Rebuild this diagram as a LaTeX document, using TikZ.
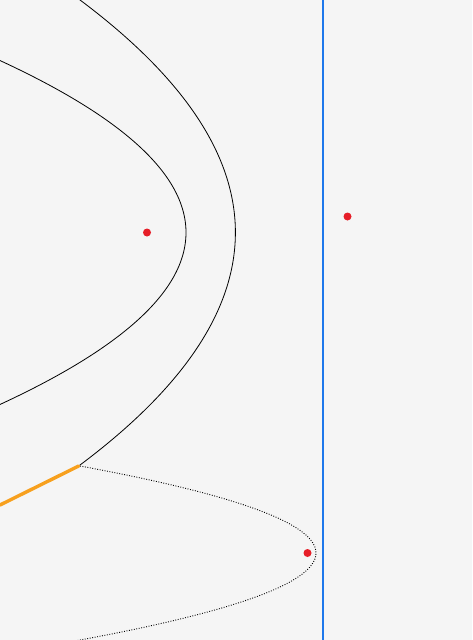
\documentclass[tikz,border=0pt]{standalone}
\definecolor{dotred}{RGB}{230,30,40}
\definecolor{dirblue}{RGB}{30,120,235}
\definecolor{tanorange}{RGB}{247,160,30}
\begin{document}
\begin{tikzpicture}[x=1pt,y=-1pt,
  curve/.style={black,line width=0.8pt},
  dotcurve/.style={black,line width=0.9pt,dash pattern=on 0.9pt off 1.6pt},
  focusdot/.style={circle,fill=dotred,inner sep=0pt,minimum size=8pt},
  directrix/.style={draw=dirblue,line width=2.8pt},
  tangent/.style={draw=tanorange,line width=3.4pt}]
\fill[black!4] (0,0) rectangle (472,640);
\useasboundingbox (0,0) rectangle (472,640);
\begin{scope}
\clip (0,0) rectangle (472,640);
\draw[curve] plot[smooth,samples=80,domain=-180:180,variable=\t] ({186-62.9*(\t/100)^2},{232.5+\t});
\draw[curve] plot[smooth,samples=80,domain=-236:233.5,variable=\t] ({235.4-28.74*(\t/100)^2},{232.5+\t});
\coordinate (P) at ({235.4-28.74*(2.335)^2},466);
\draw[dotcurve] plot[smooth,samples=60,domain=-87:90,variable=\t] ({316-311.8*(\t/100)^2},{553+\t});
\coordinate (L) at (0,505);
\draw[tangent,line cap=round] (L) -- (P);
\draw[directrix] (323,-2) coordinate (D1) -- (323,642) coordinate (D2);
\end{scope}
\node[focusdot] (F1) at (147,232.5) {};
\node[focusdot] (F2) at (347.5,216.5) {};
\node[focusdot] (F3) at (307.5,553) {};
\end{tikzpicture}
\end{document}
